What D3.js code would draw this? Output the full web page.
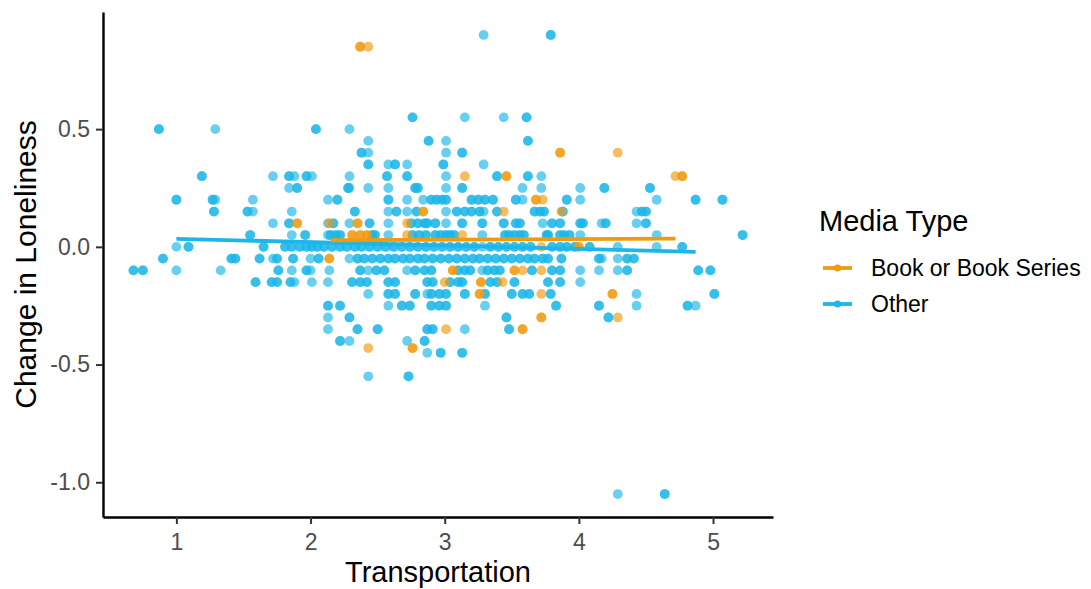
<!DOCTYPE html>
<html lang="en">
<head>
  <meta charset="UTF-8">
  <title>Change in Loneliness by Transportation</title>
  <script src="https://d3js.org/d3.v7.min.js"></script>
  <style>
    body { margin: 0; padding: 0; background: #fff; }
    svg { display: block; font-family: 'Liberation Sans', Arial, Helvetica, sans-serif; }
    .axis path { stroke: #000; stroke-width: 2.4px; }
    .axis line { stroke: #333; stroke-width: 2px; }
    .axis text { fill: #4d4d4d; font-size: 23px; }
  </style>
</head>
<body>
<svg id="chart"></svg>
<script>
  // [transportation, change in loneliness, overlapping count]
  const otherPoints = [
    [3.29,0.9,1],[3.79,0.9,2],
    [2.76,0.55,2],[3.15,0.55,1],[3.44,0.55,1],[3.61,0.55,2],
    [0.87,0.5,2],[1.29,0.5,1],[2.04,0.5,2],[2.29,0.5,1],
    [2.43,0.45,1],[2.88,0.45,2],[3.01,0.45,1],[3.62,0.45,2],
    [2.38,0.4,2],[2.43,0.4,1],[3.01,0.4,1],[3.13,0.4,2],
    [2.43,0.35,2],[2.58,0.35,1],[2.63,0.35,2],[2.72,0.35,1],[2.99,0.35,2],[3.29,0.35,1],
    [1.19,0.3,2],[1.72,0.3,1],[1.84,0.3,2],[1.88,0.3,1],[1.97,0.3,2],[2.01,0.3,1],[2.29,0.3,1],[2.57,0.3,2],
    [2.72,0.3,2],[3.01,0.3,1],[3.39,0.3,2],[3.62,0.3,2],[3.72,0.3,1],
    [1.84,0.25,1],[1.90,0.25,2],[2.28,0.25,2],[2.29,0.25,1],[2.43,0.25,1],[2.58,0.25,1],[2.78,0.25,2],[2.80,0.25,2],
    [3.01,0.25,1],[3.13,0.25,2],[3.58,0.25,1],[3.72,0.25,1],[4.01,0.25,1],[4.19,0.25,2],[4.53,0.25,2],
    [1.0,0.2,2],[1.27,0.2,2],[1.29,0.2,1],[1.57,0.2,1],[2.13,0.2,1],[2.20,0.2,2],[2.58,0.2,2],[2.72,0.2,1],
    [2.84,0.2,1],[2.90,0.2,2],[2.94,0.2,2],[2.98,0.2,2],[3.01,0.2,2],[3.20,0.2,2],[3.25,0.2,2],[3.30,0.2,2],
    [3.36,0.2,2],[3.53,0.2,2],[3.58,0.2,1],[3.91,0.2,2],[4.01,0.2,1],[4.58,0.2,1],[4.87,0.2,2],[5.07,0.2,2],
    [1.28,0.15,2],[1.53,0.15,2],[1.57,0.15,1],[1.86,0.15,1],[2.33,0.15,2],[2.58,0.15,1],[2.64,0.15,2],[2.72,0.15,1],
    [2.79,0.15,2],[3.01,0.15,1],[3.09,0.15,2],[3.15,0.15,2],[3.20,0.15,2],[3.26,0.15,2],[3.29,0.15,1],[3.39,0.15,2],
    [3.67,0.15,2],[3.71,0.15,2],[3.74,0.15,2],[3.88,0.15,2],[4.43,0.15,1],[4.47,0.15,2],[4.50,0.15,2],
    [1.72,0.1,1],[1.84,0.1,2],[2.13,0.1,1],[2.17,0.1,2],[2.29,0.1,1],[2.44,0.1,2],[2.58,0.1,1],[2.75,0.1,2],
    [2.80,0.1,2],[2.85,0.1,2],[2.87,0.1,2],[2.93,0.1,2],[3.01,0.1,1],[3.13,0.1,2],[3.28,0.1,2],[3.44,0.1,2],
    [3.53,0.1,2],[3.56,0.1,2],[3.73,0.1,1],[3.80,0.1,2],[3.86,0.1,2],[4.01,0.1,2],[4.03,0.1,2],[4.17,0.1,1],
    [4.20,0.1,2],[4.43,0.1,1],[4.50,0.1,2],
    [1.55,0.05,2],[1.86,0.05,1],[1.96,0.05,2],[2.13,0.05,1],[2.15,0.05,2],[2.19,0.05,2],[2.22,0.05,2],[2.46,0.05,2],
    [2.48,0.05,2],[2.58,0.05,1],[2.76,0.05,2],[2.81,0.05,2],[2.86,0.05,2],[2.93,0.05,2],[2.97,0.05,2],[3.01,0.05,2],
    [3.04,0.05,2],[3.07,0.05,2],[3.28,0.05,1],[3.45,0.05,2],[3.48,0.05,2],[3.52,0.05,2],[3.56,0.05,2],[3.59,0.05,2],
    [3.76,0.05,2],[3.77,0.05,2],[3.86,0.05,2],[3.89,0.05,2],[3.93,0.05,2],[4.01,0.05,1],[4.58,0.05,1],[5.22,0.05,2],
    [1.0,0,1],[1.09,0,2],[1.65,0,2],[1.81,0,2],[1.86,0,2],[1.92,0,2],[1.97,0,2],[2.01,0,2],[2.05,0,2],[2.10,0,2],
    [2.16,0,2],[2.22,0,2],[2.27,0,2],[2.33,0,2],[2.38,0,2],[2.44,0,2],[2.50,0,2],[2.56,0,2],[2.62,0,2],[2.68,0,2],
    [2.74,0,2],[2.80,0,2],[2.86,0,2],[2.92,0,2],[2.98,0,2],[3.04,0,2],[3.10,0,2],[3.16,0,2],[3.22,0,2],[3.28,0,1],
    [3.34,0,2],[3.40,0,2],[3.46,0,2],[3.52,0,2],[3.58,0,2],[3.64,0,2],[3.80,0,2],[3.86,0,2],[3.91,0,2],[3.97,0,2],
    [4.08,0,2],[4.29,0,1],[4.58,0,1],[4.77,0,2],
    [0.90,-0.05,2],[1.41,-0.05,2],[1.44,-0.05,2],[1.62,-0.05,2],[1.72,-0.05,1],[1.75,-0.05,2],[1.87,-0.05,2],
    [2.00,-0.05,1],[2.06,-0.05,2],[2.29,-0.05,1],[2.35,-0.05,2],[2.40,-0.05,2],[2.46,-0.05,2],[2.52,-0.05,2],
    [2.58,-0.05,2],[2.63,-0.05,2],[2.69,-0.05,2],[2.74,-0.05,2],[2.80,-0.05,2],[2.85,-0.05,2],[2.91,-0.05,2],
    [2.97,-0.05,2],[3.03,-0.05,2],[3.09,-0.05,2],[3.15,-0.05,2],[3.21,-0.05,2],[3.26,-0.05,2],[3.32,-0.05,2],
    [3.38,-0.05,2],[3.44,-0.05,2],[3.50,-0.05,2],[3.56,-0.05,2],[3.62,-0.05,2],[3.67,-0.05,2],[3.73,-0.05,2],
    [3.77,-0.05,2],[3.87,-0.05,2],[4.15,-0.05,2],[4.17,-0.05,1],[4.29,-0.05,1],[4.36,-0.05,2],[4.41,-0.05,2],
    [0.68,-0.1,2],[0.75,-0.1,2],[1.0,-0.1,1],[1.33,-0.1,1],[1.76,-0.1,2],[1.86,-0.1,1],[1.97,-0.1,2],[2.00,-0.1,1],
    [2.14,-0.1,1],[2.37,-0.1,2],[2.43,-0.1,1],[2.49,-0.1,2],[2.55,-0.1,2],[2.72,-0.1,1],[2.78,-0.1,2],[2.85,-0.1,2],
    [2.90,-0.1,2],[3.10,-0.1,2],[3.15,-0.1,2],[3.19,-0.1,2],[3.28,-0.1,1],[3.32,-0.1,2],[3.37,-0.1,2],[3.41,-0.1,2],
    [3.65,-0.1,2],[3.80,-0.1,2],[3.86,-0.1,2],[4.01,-0.1,1],[4.15,-0.1,1],[4.29,-0.1,1],[4.36,-0.1,2],
    [4.89,-0.1,2],[4.98,-0.1,2],
    [1.59,-0.15,2],[1.71,-0.15,2],[1.75,-0.15,2],[1.85,-0.15,2],[1.88,-0.15,1],[2.01,-0.15,1],[2.13,-0.15,1],
    [2.31,-0.15,2],[2.37,-0.15,2],[2.42,-0.15,2],[2.58,-0.15,2],[2.63,-0.15,2],[2.87,-0.15,2],[2.91,-0.15,2],
    [3.04,-0.15,2],[3.10,-0.15,2],[3.13,-0.15,2],[3.34,-0.15,2],[3.39,-0.15,2],[3.52,-0.15,2],[3.77,-0.15,2],
    [3.86,-0.15,2],[4.01,-0.15,1],
    [2.43,-0.2,1],[2.58,-0.2,2],[2.63,-0.2,2],[2.78,-0.2,2],[2.87,-0.2,1],[2.90,-0.2,2],[2.96,-0.2,2],[3.01,-0.2,2],
    [3.15,-0.2,2],[3.30,-0.2,2],[3.50,-0.2,2],[3.58,-0.2,2],[3.63,-0.2,2],[3.79,-0.2,2],[4.43,-0.2,1],[5.01,-0.2,2],
    [2.13,-0.25,2],[2.22,-0.25,2],[2.58,-0.25,1],[2.68,-0.25,2],[2.74,-0.25,2],[2.90,-0.25,2],[2.96,-0.25,2],
    [3.01,-0.25,2],[3.30,-0.25,1],[3.83,-0.25,2],[4.15,-0.25,2],[4.43,-0.25,1],[4.81,-0.25,2],[4.87,-0.25,1],
    [2.13,-0.3,1],[2.29,-0.3,2],[3.46,-0.3,2],[4.22,-0.3,2],
    [2.13,-0.35,1],[2.35,-0.35,2],[2.50,-0.35,2],[2.87,-0.35,2],[2.91,-0.35,2],[3.15,-0.35,1],[3.48,-0.35,2],
    [2.22,-0.4,2],[2.29,-0.4,1],[2.72,-0.4,1],[2.85,-0.4,2],
    [2.87,-0.45,1],[2.97,-0.45,2],[3.13,-0.45,2],
    [2.43,-0.55,1],[2.73,-0.55,2],
    [4.29,-1.05,1],[4.64,-1.05,2]
  ];

  const bookPoints = [
    [2.37,0.85,2],[2.43,0.85,1],
    [3.86,0.4,2],[4.29,0.4,1],
    [3.15,0.3,1],[3.46,0.3,2],[4.72,0.3,1],[4.77,0.3,2],
    [3.68,0.2,2],[3.73,0.2,1],
    [2.84,0.15,2],[3.44,0.15,1],[3.87,0.15,1],
    [1.90,0.1,2],[2.14,0.1,1],[2.35,0.1,2],[2.72,0.1,1],
    [2.31,0.05,2],[2.37,0.05,2],[2.42,0.05,2],[2.72,0.05,1],[3.13,0.05,1],
    [3.72,0,1],[4.00,0,2],
    [2.14,-0.05,2],
    [3.06,-0.1,2],[3.52,-0.1,2],[3.58,-0.1,1],[3.72,-0.1,1],
    [3.00,-0.15,1],[3.27,-0.15,2],[3.43,-0.15,1],
    [3.26,-0.2,2],[3.72,-0.2,1],[4.25,-0.2,2],
    [3.72,-0.3,2],[4.29,-0.3,1],
    [3.01,-0.35,1],[3.58,-0.35,2],
    [2.43,-0.43,1],[2.76,-0.43,2]
  ];

  // fitted linear trends (end points)
  const otherFit = [[1.0, 0.034], [4.87, -0.021]];
  const bookFit = [[2.15, 0.028], [4.72, 0.035]];

  const mediaTypes = ["Book or Book Series", "Other"];
  const mediaColors = ["#f29a0e", "#1cb6e8"];
  const yTicks = [-1.0, -0.5, 0.0, 0.5];
  const xTicks = [1, 2, 3, 4, 5];

  const W = 1091, H = 589;
  const margin = { top: 12, right: 318, bottom: 72, left: 103 };
  const width = W - margin.left - margin.right;
  const height = H - margin.top - margin.bottom;

  const svg = d3.select("#chart").attr("width", W).attr("height", H);
  const g = svg.append("g").attr("transform", `translate(${margin.left},${margin.top})`);

  const color = d3.scaleOrdinal().domain(mediaTypes).range(mediaColors);

  // ggplot-style 5% expansion around the data
  const all = otherPoints.concat(bookPoints);
  const xe = d3.extent(all, d => d[0]), ye = d3.extent(all, d => d[1]);
  const xp = (xe[1] - xe[0]) * 0.05, yp = (ye[1] - ye[0]) * 0.05;

  const x = d3.scaleLinear().domain([xe[0] - xp, xe[1] + xp]).range([0, width]);
  const y = d3.scaleLinear().domain([ye[0] - yp, ye[1] + yp]).range([height, 0]);

  function expand(points) {
    const out = [];
    points.forEach(p => { for (let i = 0; i < p[2]; i++) out.push(p); });
    return out;
  }

  [["Other", otherPoints], ["Book or Book Series", bookPoints]].forEach(([type, pts]) => {
    g.append("g").selectAll("circle")
      .data(expand(pts))
      .enter().append("circle")
      .attr("cx", d => x(d[0]))
      .attr("cy", d => y(d[1]))
      .attr("r", 4.9)
      .attr("fill", color(type))
      .attr("fill-opacity", 0.66);
  });

  const line = d3.line().x(d => x(d[0])).y(d => y(d[1]));

  [["Other", otherFit], ["Book or Book Series", bookFit]].forEach(([type, fit]) => {
    g.append("path")
      .datum(fit)
      .attr("d", line)
      .attr("fill", "none")
      .attr("stroke", color(type))
      .attr("stroke-width", 3.8);
  });

  g.append("g")
    .attr("class", "axis")
    .attr("transform", `translate(0,${height})`)
    .call(d3.axisBottom(x).tickValues(xTicks).tickFormat(d3.format("d")).tickSize(7).tickPadding(10).tickSizeOuter(0));

  g.append("g")
    .attr("class", "axis")
    .call(d3.axisLeft(y).tickValues(yTicks).tickFormat(d3.format(".1f")).tickSize(7).tickPadding(6).tickSizeOuter(0));

  g.selectAll(".axis text").text(function() { return this.textContent.replace("−", "-"); });

  svg.append("text")
    .attr("x", margin.left + width / 2)
    .attr("y", 582)
    .attr("text-anchor", "middle")
    .style("font-size", "29px")
    .text("Transportation");

  svg.append("text")
    .attr("transform", `translate(36,${margin.top + height / 2}) rotate(-90)`)
    .attr("text-anchor", "middle")
    .style("font-size", "30px")
    .text("Change in Loneliness");

  // legend
  const legend = svg.append("g").attr("transform", "translate(819,0)");
  legend.append("text")
    .attr("x", 0).attr("y", 231)
    .style("font-size", "29px")
    .text("Media Type");

  mediaTypes.forEach((type, i) => {
    const row = legend.append("g").attr("transform", `translate(0,${268 + i * 36})`);
    row.append("line")
      .attr("x1", 4).attr("x2", 33)
      .attr("stroke", color(type))
      .attr("stroke-width", 3.8);
    row.append("circle")
      .attr("cx", 18.5).attr("r", 3.6)
      .attr("fill", color(type));
    row.append("text")
      .attr("x", 52).attr("y", 8)
      .style("font-size", "23px")
      .text(type);
  });
</script>
</body>
</html>
